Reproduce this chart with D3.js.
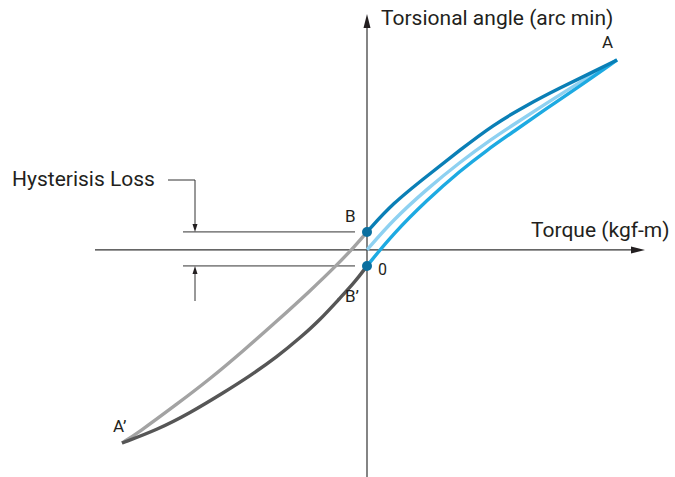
<!DOCTYPE html>
<html>
<head>
<meta charset="utf-8">
<script src="https://cdn.jsdelivr.net/npm/d3@7"></script>
<style>
  body { margin: 0; background: #fff; }
  text { font-family: Roboto, "DejaVu Sans", sans-serif; fill: #231f20; }
</style>
</head>
<body>
<div id="chart"></div>
<script>
// torque (x) vs torsional angle (y), normalised so A = (1, 1)
const loadUpper = [[0, 0.095], [0.104, 0.247], [0.24, 0.389], [0.372, 0.526], [0.504, 0.658],
  [0.64, 0.763], [0.772, 0.853], [0.904, 0.937], [1, 1]];
const loadMiddle = [[0, 0], [0.104, 0.158], [0.24, 0.321], [0.372, 0.463], [0.504, 0.589],
  [0.584, 0.658], [0.72, 0.774], [0.852, 0.884], [1, 1]];
const loadLower = [[0, -0.084], [0.104, 0.084], [0.24, 0.263], [0.372, 0.416], [0.48, 0.526],
  [0.584, 0.621], [0.72, 0.747], [0.852, 0.863], [1, 1]];
const unloadUpper = [[-0.98, -1.016], [-0.916, -0.963], [-0.76, -0.811], [-0.628, -0.679],
  [-0.496, -0.532], [-0.36, -0.374], [-0.228, -0.216], [-0.12, -0.079], [-0.048, 0.021], [0, 0.095]];
const unloadLower = [[-0.98, -1.016], [-0.84, -0.947], [-0.708, -0.858], [-0.576, -0.753],
  [-0.468, -0.663], [-0.36, -0.563], [-0.268, -0.463], [-0.188, -0.368], [-0.108, -0.253],
  [-0.048, -0.168], [0, -0.084]];
const pointB = [0, 0.095], pointB2 = [0, -0.084];
const pointA = [1, 1], pointA2 = [-0.98, -1.016];

const width = 675, height = 477;

const x = d3.scaleLinear().domain([-1.088, 1.112]).range([95, 645]);
const y = d3.scaleLinear().domain([-1.195, 1.242]).range([477, 14]);

const svg = d3.select("#chart").append("svg")
  .attr("width", width)
  .attr("height", height);

const axisColor = "#333";

// axes
svg.append("line")
  .attr("x1", x.range()[0]).attr("x2", x.range()[1] - 10)
  .attr("y1", y(0)).attr("y2", y(0))
  .attr("stroke", axisColor).attr("stroke-width", 1.2);
svg.append("path")
  .attr("d", `M${x.range()[1]},${y(0)} l-14,-3.5 l0,7 z`)
  .attr("fill", "#231f20");
svg.append("line")
  .attr("x1", x(0)).attr("x2", x(0))
  .attr("y1", y.range()[0]).attr("y2", y.range()[1] + 10)
  .attr("stroke", axisColor).attr("stroke-width", 1.2);
svg.append("path")
  .attr("d", `M${x(0)},${y.range()[1]} l-3.5,14 l7,0 z`)
  .attr("fill", "#231f20");

// hysteresis loss guides
const guideX = 195;
[pointB, pointB2].forEach(p => {
  svg.append("line")
    .attr("x1", 183).attr("x2", x(0) - 12)
    .attr("y1", y(p[1])).attr("y2", y(p[1]))
    .attr("stroke", axisColor).attr("stroke-width", 1);
});
svg.append("path")
  .attr("d", `M168,180 H${guideX} V${y(pointB[1]) - 6}`)
  .attr("fill", "none").attr("stroke", axisColor).attr("stroke-width", 1);
svg.append("path")
  .attr("d", `M${guideX},${y(pointB[1])} l-2.5,-8 l5,0 z`)
  .attr("fill", "#231f20");
svg.append("path")
  .attr("d", `M${guideX},${y(pointB2[1]) + 6} V301`)
  .attr("fill", "none").attr("stroke", axisColor).attr("stroke-width", 1);
svg.append("path")
  .attr("d", `M${guideX},${y(pointB2[1])} l-2.5,8 l5,0 z`)
  .attr("fill", "#231f20");

// curves
const line = d3.line()
  .x(d => x(d[0]))
  .y(d => y(d[1]))
  .curve(d3.curveBasis);

const curves = [
  {data: unloadUpper, color: "#a3a3a3"},
  {data: unloadLower, color: "#565656"},
  {data: loadMiddle, color: "#8ed1f1"},
  {data: loadLower, color: "#1daae2"},
  {data: loadUpper, color: "#0a7fb6"}
];
svg.append("g")
  .selectAll("path")
  .data(curves)
  .enter()
  .append("path")
    .attr("d", d => line(d.data))
    .attr("fill", "none")
    .attr("stroke", d => d.color)
    .attr("stroke-width", 3.4)
    .attr("stroke-linecap", "butt");

// B and B' markers
svg.append("g")
  .selectAll("circle")
  .data([pointB, pointB2])
  .enter()
  .append("circle")
    .attr("cx", d => x(d[0]))
    .attr("cy", d => y(d[1]))
    .attr("r", 5)
    .attr("fill", "#0b6f9f");

// labels
const labels = [
  {t: "Torsional angle (arc min)", px: x(0) + 14, py: 25, size: 21},
  {t: "Torque (kgf-m)", px: 531, py: 237, size: 21},
  {t: "Hysterisis Loss", px: 12, py: 186, size: 21},
  {t: "A", px: 602, py: 48, size: 17},
  {t: "A\u2019", px: 113, py: 432, size: 17},
  {t: "B", px: 345, py: 222, size: 17},
  {t: "B\u2019", px: 345, py: 302, size: 17},
  {t: "0", px: 378, py: 275, size: 16}
];
svg.append("g")
  .selectAll("text")
  .data(labels)
  .enter()
  .append("text")
    .attr("x", d => d.px)
    .attr("y", d => d.py)
    .attr("font-size", d => d.size)
    .text(d => d.t);
</script>
</body>
</html>
